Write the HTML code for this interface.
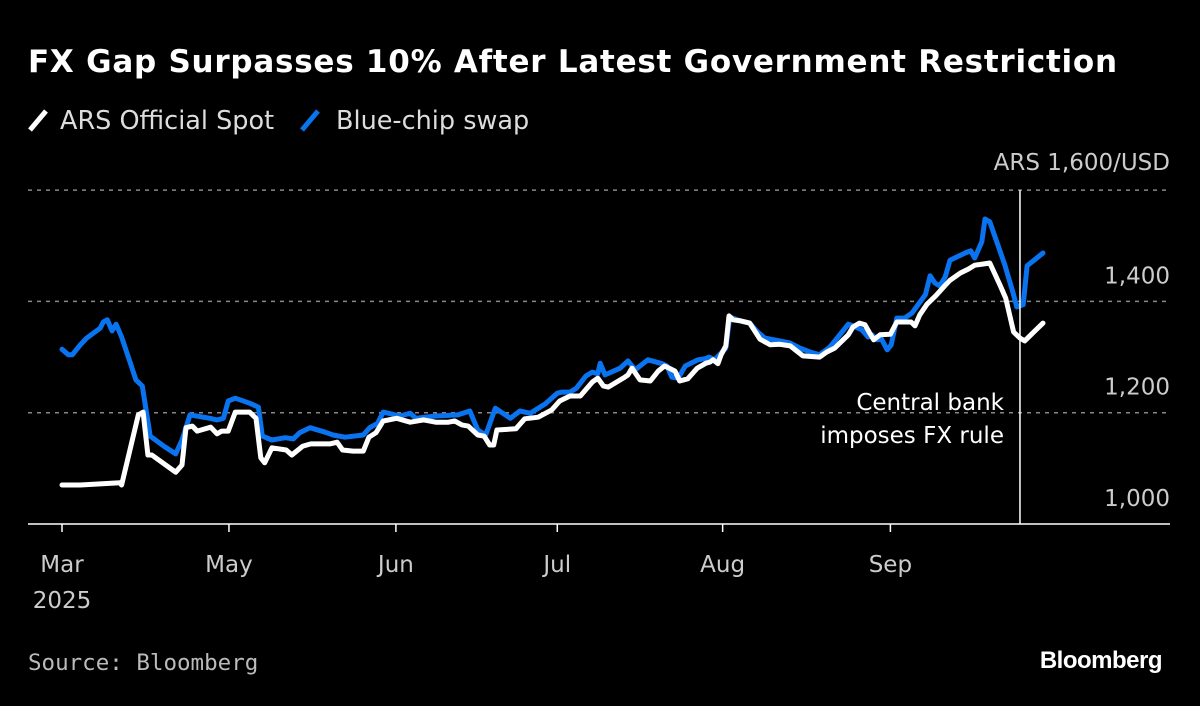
<!DOCTYPE html>
<html><head><meta charset="utf-8"><style>
html,body{margin:0;padding:0;background:#000;}
body{width:1200px;height:702px;overflow:hidden;font-family:"DejaVu Sans","Liberation Sans",sans-serif;}
</style></head><body>
<svg id="chart" width="1200" height="702" xmlns="http://www.w3.org/2000/svg">
<rect width="1200" height="702" fill="#000"/>
<text x="28" y="72" fill="#fff" font-size="31" font-weight="bold" letter-spacing="0.75" font-family="DejaVu Sans, sans-serif">FX Gap Surpasses 10% After Latest Government Restriction</text>
<g>
<g><line x1="30" y1="130" x2="46" y2="111" stroke="#fff" stroke-width="5"/><text x="60" y="129" fill="#ddd" font-size="25.5" font-family="DejaVu Sans, sans-serif">ARS Official Spot</text></g>
<g><line x1="302" y1="130" x2="318" y2="111" stroke="#0a74f0" stroke-width="5"/><text x="336" y="129" fill="#ddd" font-size="25.5" font-family="DejaVu Sans, sans-serif">Blue-chip swap</text></g>
</g>
<g id="grid"></g><g id="axes"></g><g id="series"></g><g id="annot"></g>
<text x="28" y="670" fill="#bbb" font-size="22.5" font-family="DejaVu Sans Mono, monospace">Source: Bloomberg</text>
<text x="1162" y="668" fill="#fff" font-size="24" font-weight="bold" text-anchor="end" font-family="Liberation Sans, sans-serif" letter-spacing="-0.5">Bloomberg</text>
</svg>
<script>
const yTicks=[1000,1200,1400,1600];
const yTickLabels=["1,000","1,200","1,400","ARS 1,600/USD"];
const xTickDays=[0,21,42,62.3,83.1,104.2];
const xTickLabels=["Mar","May","Jun","Jul","Aug","Sep"];
const officialDays=[0,2.3,7.3,7.5,9.6,10.2,10.8,11.3,14.3,15.1,15.6,16.4,17.0,18.7,19.5,20.1,20.9,21.8,23.6,24.4,25.0,25.5,26.4,28.2,28.9,30.3,31.3,33.7,34.6,35.3,36.6,37.9,38.6,39.5,40.4,42.1,43.8,45.5,47.0,48.6,49.4,50.3,51.1,52.3,53.1,53.8,54.3,54.7,57.1,58.2,59.9,61.6,62.6,63.9,65.2,66.7,67.4,68.1,68.7,70.8,71.2,71.7,72.7,74.0,75.0,75.8,77.1,77.7,78.7,79.9,81.0,81.5,81.9,82.5,82.9,83.5,83.9,84.4,85.4,86.5,87.8,89.1,90.3,91.6,93.2,95.3,96.2,97.2,98.9,99.5,100.3,101.0,101.6,102.1,102.9,104.2,105.0,106.8,107.3,107.9,108.8,109.9,111.1,111.7,113.0,114.0,114.8,115.8,116.7,118.0,118.7,119.7,120.5,121.1,122.1,123.4];
const officialValues=[1070,1070,1074,1070,1196,1201,1124,1124,1093,1106,1173,1176,1167,1174,1162,1167,1167,1201,1201,1190,1119,1110,1137,1133,1124,1140,1144,1144,1147,1133,1131,1131,1156,1164,1185,1190,1183,1187,1183,1183,1185,1178,1176,1160,1158,1142,1142,1169,1171,1189,1192,1205,1221,1230,1230,1255,1262,1248,1246,1264,1268,1280,1259,1257,1275,1284,1275,1257,1261,1280,1289,1291,1295,1288,1304,1320,1374,1367,1365,1361,1332,1322,1323,1320,1302,1300,1309,1316,1340,1354,1361,1358,1343,1331,1340,1341,1363,1363,1356,1376,1395,1410,1429,1438,1451,1458,1465,1467,1469,1429,1406,1345,1334,1329,1343,1361];
const blueDays=[0,0.8,1.3,2.3,3.1,4.8,5.2,5.7,6.3,6.8,7.5,8.6,9.3,10.1,11.1,12.8,14.3,15.1,16.1,18.6,19.5,20.3,20.9,21.8,23.6,24.7,25.2,26.4,28.1,29.1,29.9,31.2,33.1,34.1,35.6,37.9,38.7,39.7,40.4,42.5,43.8,44.5,47.0,49.8,51.3,52.3,53.3,54.5,56.4,57.6,58.9,60.8,62.3,62.9,63.9,64.7,65.9,66.7,67.4,67.7,68.3,70.2,71.2,72.1,73.7,75.5,76.1,76.7,77.5,78.4,80.0,80.9,81.4,82.1,83.5,84.0,85.3,86.5,87.5,88.4,90.3,91.6,92.8,94.1,95.3,96.6,98.9,99.5,100.6,101.4,101.9,102.5,103.1,103.8,104.3,105.0,106.0,106.9,108.6,109.2,109.8,110.4,111.1,111.7,113.0,113.6,114.3,114.8,115.7,116.1,116.7,118.6,119.6,120.1,120.9,121.4,123.4];
const blueValues=[1314,1304,1304,1322,1334,1352,1363,1367,1347,1359,1336,1289,1259,1248,1158,1140,1126,1151,1196,1190,1187,1190,1221,1226,1217,1210,1158,1151,1155,1153,1164,1173,1165,1160,1156,1160,1173,1181,1201,1194,1199,1190,1194,1196,1203,1169,1160,1208,1190,1203,1199,1216,1235,1237,1237,1244,1266,1273,1270,1289,1268,1280,1293,1277,1295,1288,1284,1264,1262,1284,1295,1297,1300,1295,1316,1372,1365,1361,1345,1334,1329,1325,1316,1309,1304,1318,1359,1356,1349,1336,1340,1331,1332,1313,1322,1370,1370,1379,1412,1446,1433,1428,1444,1474,1483,1487,1491,1478,1507,1548,1543,1465,1417,1390,1394,1464,1487];
const ruleDay=120.5;

const NS="http://www.w3.org/2000/svg";
const X=d=>62+d*7.95;
const Y=v=>524-(v-1000)*0.5565;
function mk(tag,attrs,parent){const e=document.createElementNS(NS,tag);for(const k in attrs)e.setAttribute(k,attrs[k]);parent.appendChild(e);return e;}
const grid=document.getElementById('grid'),axes=document.getElementById('axes'),series=document.getElementById('series'),annot=document.getElementById('annot');
yTicks.forEach((v,i)=>{
  if(i>0){const l=mk('line',{x1:28,x2:1170,y1:Y(v),y2:Y(v),stroke:'#888','stroke-width':1.5,'stroke-dasharray':'4 5'},grid);
  
  }
  const t=mk('text',{x:1170,y:i==3?Y(v)-20:Y(v)-18,fill:'#ccc','font-size':23,'text-anchor':'end','font-family':'DejaVu Sans, sans-serif'},axes);
  t.textContent=yTickLabels[i];
  
  
});
const base=mk('line',{x1:28,x2:1170,y1:Y(1000),y2:Y(1000),stroke:'#fff','stroke-width':1.5},axes);


xTickDays.forEach((d,i)=>{
  const tk=mk('line',{x1:X(d),x2:X(d),y1:Y(1000),y2:Y(1000)+8,stroke:'#fff','stroke-width':1.5},axes);
  
  
  const t=mk('text',{x:X(d),y:572,fill:'#ccc','font-size':23,'text-anchor':'middle','font-family':'DejaVu Sans, sans-serif'},axes);
  t.textContent=xTickLabels[i];
  
  
});
const yr=mk('text',{x:X(0),y:608,fill:'#ccc','font-size':23,'text-anchor':'middle','font-family':'DejaVu Sans, sans-serif'},axes);
yr.textContent='2025';


function line(days,vals,color,name){
  const p=mk('path',{d:days.map((d,i)=>(i?'L':'M')+X(d).toFixed(1)+' '+Y(vals[i]).toFixed(1)).join(' '),fill:'none',stroke:color,'stroke-width':5,'stroke-linejoin':'round','stroke-linecap':'round'},series);
  
  
}
line(blueDays,blueValues,'#0a74f0','bluechip-swap-line');
line(officialDays,officialValues,'#ffffff','official-spot-line');
const rl=mk('line',{x1:X(ruleDay),x2:X(ruleDay),y1:Y(1600),y2:Y(1000),stroke:'#fff','stroke-width':1.5},annot);


['Central bank','imposes FX rule'].forEach((s,i)=>{
  const t=mk('text',{x:X(ruleDay)-16,y:410+i*33,fill:'#fff','font-size':23,'text-anchor':'end','font-family':'DejaVu Sans, sans-serif'},annot);
  t.textContent=s;
  
  
});
</script>
</body></html>
